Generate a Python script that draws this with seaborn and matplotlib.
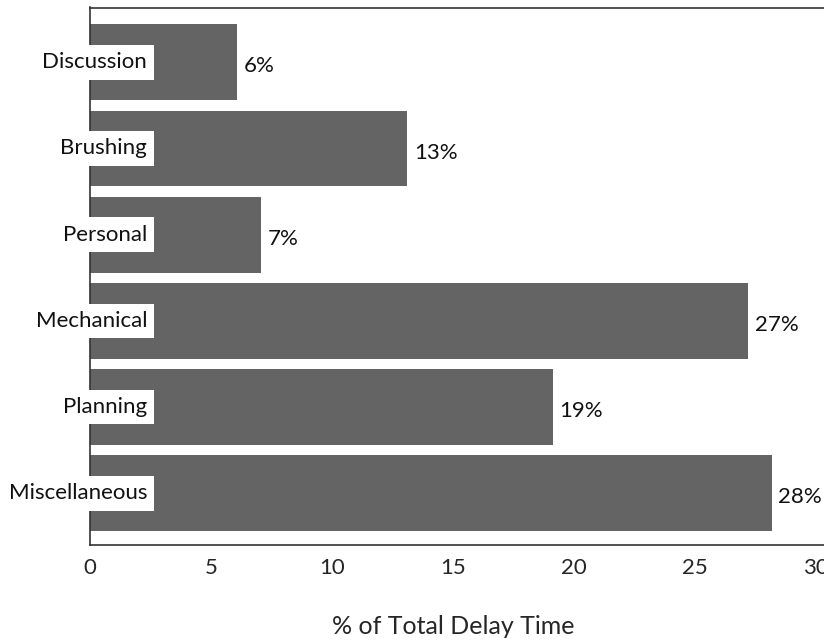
import matplotlib
matplotlib.use("Agg")
import matplotlib.pyplot as plt
import seaborn as sns
import pandas as pd

# Share of total delay time by cause (percent)
categories = ["Discussion", "Brushing", "Personal", "Mechanical", "Planning", "Miscellaneous"]
delay_pct = [6.06, 13.1, 7.07, 27.18, 19.12, 28.17]
x_ticks = [0, 5, 10, 15, 20, 25, 30]

df = pd.DataFrame({"cause": categories, "pct": delay_pct})

sns.set_theme(style="white")
plt.rcParams["font.family"] = ["Lato", "DejaVu Sans"]

fig = plt.figure(figsize=(8.24, 6.4), dpi=100)
# axes runs past the right edge of the canvas
ax = fig.add_axes([90 / 824, 95 / 640, 750 / 824, 537.5 / 640])

bar_color = "#646464"
sns.barplot(data=df, y="cause", x="pct", order=categories, orient="h",
            color=bar_color, saturation=1, width=0.88, linewidth=0, ax=ax)

ax.set_xlim(0, 31)
ax.set_ylim(5.6, -0.635)
ax.set_xticks(x_ticks)
ax.set_xticklabels([str(t) for t in x_ticks], fontsize=16)
ax.tick_params(axis="x", direction="out", length=4, width=1.1, color="#333333", pad=5)
ax.set_yticks([])
ax.set_ylabel("")
ax.set_xlabel("% of Total Delay Time", fontsize=18)
ax.xaxis.set_label_coords(15 / 31, -0.13)

for side in ["left", "top", "bottom"]:
    ax.spines[side].set_color("#333333")
    ax.spines[side].set_linewidth(1.2)
ax.spines["right"].set_visible(False)

# category names sit on white boxes overlapping the bars
for i, name in enumerate(categories):
    ax.text(2.36, i, name, ha="right", va="center", fontsize=16, color="#111111",
            bbox=dict(boxstyle="square,pad=0.33", facecolor="white", edgecolor="none"),
            zorder=5)

# value labels at the bar ends
for i, v in enumerate(delay_pct):
    ax.annotate(f"{round(v)}%", xy=(v, i), xytext=(5, -3), textcoords="offset points",
                ha="left", va="center", fontsize=16, color="#111111")

fig.savefig("out.png", dpi=100)
